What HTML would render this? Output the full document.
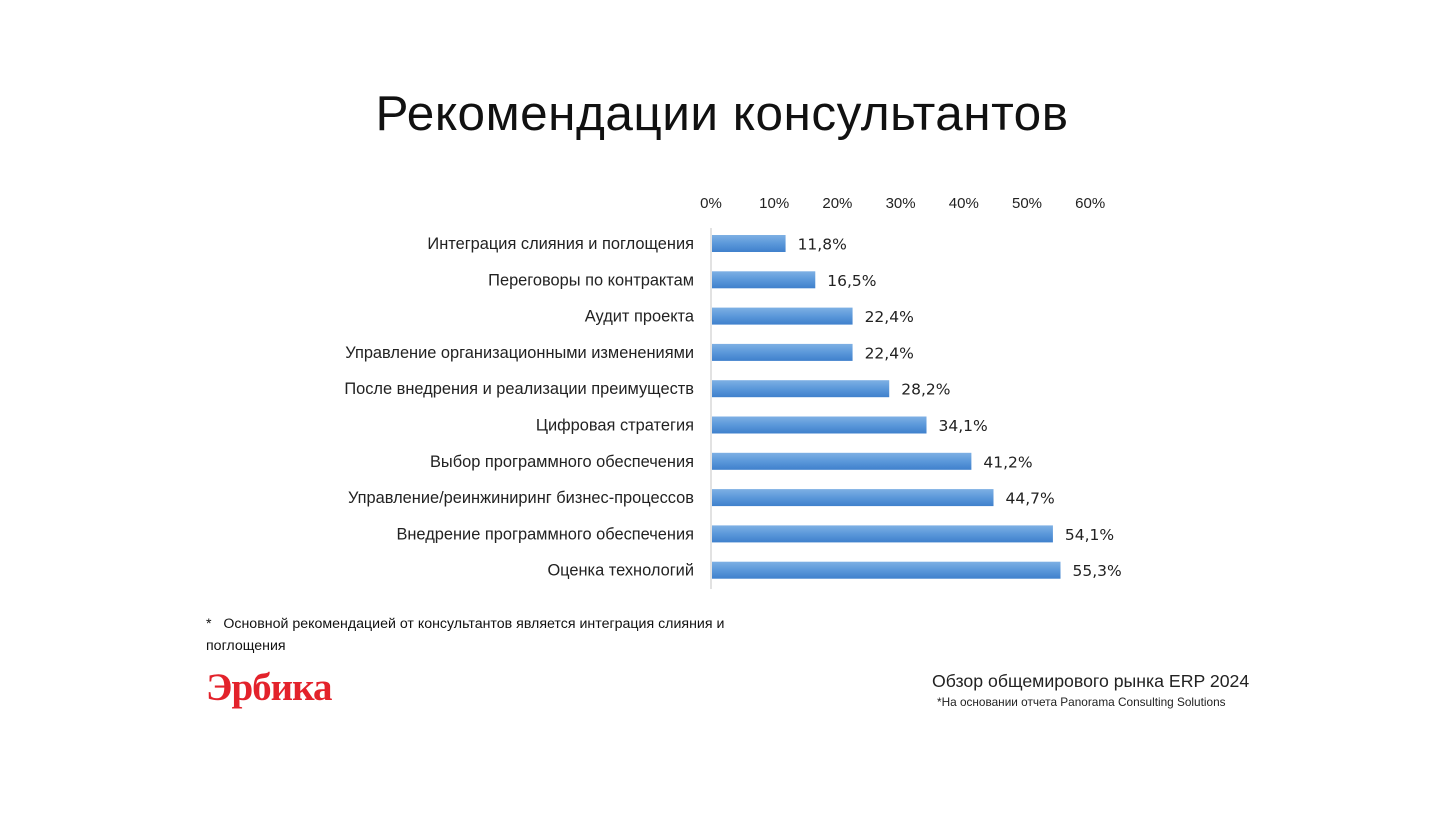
<!DOCTYPE html>
<html><head><meta charset="utf-8"><style>
body{margin:0;width:1444px;height:816px;background:#fff;overflow:hidden;font-family:"Liberation Sans","DejaVu Sans",sans-serif;}
#title{position:absolute;left:0;width:1444px;top:85px;text-align:center;font-size:49.5px;font-weight:300;color:#111;letter-spacing:0.5px}
.t{position:absolute;white-space:nowrap}
</style></head><body>
<div id="title">Рекомендации консультантов</div>
<svg id="chart" width="1444" height="816" style="position:absolute;left:0;top:0">
<defs><linearGradient id="g" x1="0" y1="0" x2="0" y2="1"><stop offset="0" stop-color="#7eb0e4"/><stop offset="0.5" stop-color="#5b98da"/><stop offset="1" stop-color="#3f80cc"/></linearGradient></defs>
</svg>
<div class="t" style="left:206px;top:613px;font-size:14.2px;line-height:22px;color:#111;width:560px;white-space:normal">*&nbsp;&nbsp; Основной рекомендацией от консультантов является интеграция слияния и поглощения</div>
<div class="t" style="left:206px;top:665px;font-family:'Liberation Serif',serif;font-size:39px;color:#e3222b;letter-spacing:-1px;font-weight:bold">Эрбика</div>
<div class="t" style="left:932px;top:671px;font-size:17.7px;color:#222">Обзор общемирового рынка ERP 2024</div>
<div class="t" style="left:937px;top:695px;font-size:11.8px;color:#222">*На основании отчета Panorama Consulting Solutions</div>
<script>
const categories=["Интеграция слияния и поглощения","Переговоры по контрактам","Аудит проекта","Управление организационными изменениями","После внедрения и реализации преимуществ","Цифровая стратегия","Выбор программного обеспечения","Управление/реинжиниринг бизнес-процессов","Внедрение программного обеспечения","Оценка технологий"];
const values=[11.8,16.5,22.4,22.4,28.2,34.1,41.2,44.7,54.1,55.3];
const ticks=[0,10,20,30,40,50,60];
const svg=document.getElementById('chart');const NS='http://www.w3.org/2000/svg';
const x0=711,pxPer=6.32,y0=243.5,step=36.3,bh=17;
const xs=v=>x0+v*pxPer, ys=i=>y0+i*step;
function el(t,a){const e=document.createElementNS(NS,t);for(const k in a)e.setAttribute(k,a[k]);svg.appendChild(e);return e;}
const ax=el('line',{x1:x0,x2:x0,y1:228,y2:589,stroke:'#d9d9d9','stroke-width':1.5});


ticks.forEach(t=>{const e=el('text',{x:xs(t),y:208,'text-anchor':'middle','font-size':15,fill:'#222','font-family':'Liberation Sans, sans-serif'});e.textContent=t+'%';

});
categories.forEach((c,i)=>{const y=ys(i);
const l=el('text',{x:694,y:y+5.5,'text-anchor':'end','font-size':16.4,fill:'#222','font-family':'Liberation Sans, sans-serif'});l.textContent=c;


const r=el('rect',{x:x0+1,y:y-bh/2,width:xs(values[i])-x0-1,height:bh,fill:'url(#g)'});


const v=el('text',{x:xs(values[i])+12,y:y+6,'font-size':15.5,fill:'#222','font-family':'DejaVu Sans, sans-serif'});v.textContent=values[i].toFixed(1).replace('.',',')+'%';

});
</script>
</body></html>
